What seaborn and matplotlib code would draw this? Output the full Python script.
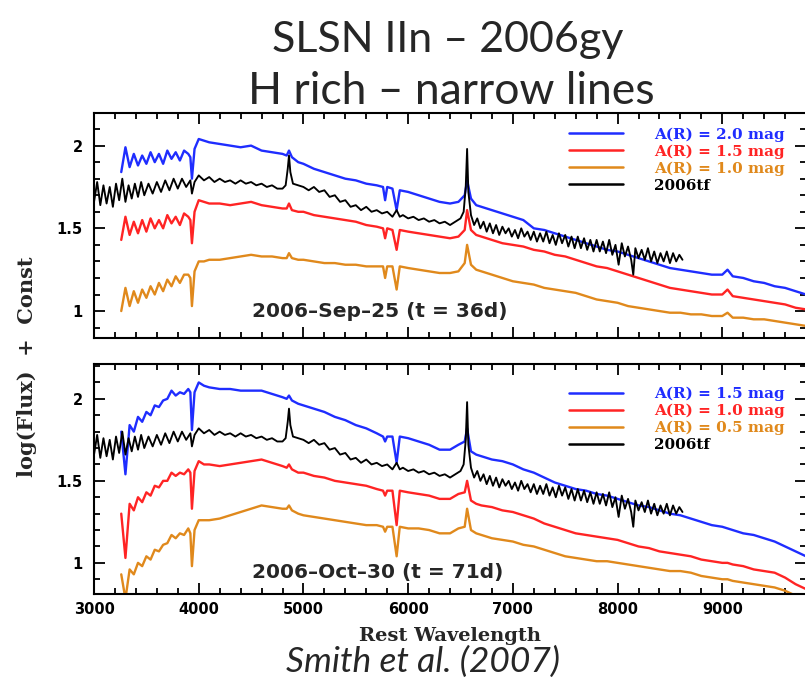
import matplotlib
matplotlib.use("Agg")
import matplotlib.pyplot as plt
import seaborn as sns
from matplotlib.ticker import MultipleLocator, FormatStrFormatter

# ---------------- data ----------------
WL_GY = [3260, 3300, 3340, 3380, 3420, 3460, 3500, 3540, 3580, 3620, 3660, 3700, 3740, 3780, 3820, 3860, 3900,
         3920, 3935, 3960, 4000, 4050, 4100,
         4200, 4300, 4400, 4500, 4600, 4700, 4800,
         4840, 4862, 4890, 4950, 5000,
         5100, 5200, 5300, 5400, 5500, 5600, 5700,
         5760, 5780, 5800, 5850, 5890, 5920, 6000,
         6100, 6200, 6300, 6400, 6480, 6540, 6563, 6600, 6650, 6700,
         6800, 6900, 7000, 7100, 7200, 7300, 7400, 7500, 7600, 7700,
         7800, 7900, 8000, 8100, 8200, 8300, 8400, 8500, 8600, 8700,
         8800, 8900, 9000, 9050, 9100, 9200, 9300, 9400, 9500, 9600, 9700, 9800]

# top panel: 2006-Sep-25
SEP_BLUE = [1.84, 1.99, 1.87, 1.95, 1.88, 1.94, 1.89, 1.96, 1.90, 1.95, 1.89, 1.97, 1.92, 1.96, 1.91, 1.97, 1.95,
            1.93, 1.80, 1.98, 2.04, 2.03, 2.02,
            2.01, 2.00, 1.99, 2.00, 1.97, 1.96, 1.95,
            1.94, 1.97, 1.93, 1.90, 1.89,
            1.86, 1.84, 1.82, 1.80, 1.79, 1.77, 1.76,
            1.75, 1.67, 1.75, 1.74, 1.61, 1.73, 1.72,
            1.70, 1.68, 1.66, 1.65, 1.66, 1.70, 1.79, 1.68, 1.64, 1.63,
            1.61, 1.59, 1.57, 1.55, 1.50, 1.49, 1.47, 1.45, 1.43, 1.41,
            1.39, 1.37, 1.36, 1.34, 1.32, 1.30, 1.28, 1.26, 1.25, 1.24,
            1.23, 1.22, 1.22, 1.25, 1.21, 1.20, 1.18, 1.17, 1.15, 1.14, 1.12, 1.10]
SEP_RED = [1.43, 1.57, 1.46, 1.54, 1.47, 1.55, 1.48, 1.56, 1.50, 1.55, 1.50, 1.58, 1.53, 1.57, 1.52, 1.59, 1.57,
           1.55, 1.41, 1.60, 1.67, 1.66, 1.65,
           1.65, 1.64, 1.65, 1.66, 1.64, 1.63, 1.62,
           1.62, 1.65, 1.61, 1.60, 1.60,
           1.58, 1.57, 1.56, 1.55, 1.54, 1.52, 1.51,
           1.50, 1.44, 1.50, 1.49, 1.37, 1.49, 1.48,
           1.47, 1.46, 1.45, 1.44, 1.45, 1.49, 1.61, 1.49, 1.46, 1.45,
           1.43, 1.41, 1.40, 1.39, 1.37, 1.36, 1.34, 1.33, 1.31, 1.29,
           1.27, 1.26, 1.24, 1.22, 1.20, 1.18, 1.16, 1.14, 1.13, 1.12,
           1.11, 1.10, 1.10, 1.13, 1.09, 1.08, 1.07, 1.06, 1.05, 1.04, 1.02, 1.01]
SEP_ORANGE = [1.00, 1.14, 1.03, 1.12, 1.05, 1.13, 1.08, 1.15, 1.10, 1.17, 1.12, 1.19, 1.15, 1.21, 1.17, 1.22, 1.22,
              1.20, 1.03, 1.24, 1.30, 1.30, 1.31,
              1.31, 1.32, 1.33, 1.34, 1.33, 1.33, 1.32,
              1.32, 1.35, 1.32, 1.31, 1.31,
              1.30, 1.29, 1.29, 1.28, 1.28, 1.27, 1.27,
              1.27, 1.20, 1.27, 1.27, 1.13, 1.27, 1.26,
              1.25, 1.24, 1.23, 1.23, 1.24, 1.29, 1.40, 1.28, 1.25, 1.24,
              1.22, 1.20, 1.18, 1.17, 1.16, 1.14, 1.13, 1.12, 1.11, 1.09,
              1.07, 1.06, 1.05, 1.03, 1.02, 1.01, 1.00, 0.99, 0.99, 0.98,
              0.98, 0.97, 0.97, 0.99, 0.96, 0.96, 0.95, 0.95, 0.94, 0.93, 0.92, 0.91]

# bottom panel: 2006-Oct-30
OCT_BLUE = [1.80, 1.54, 1.84, 1.80, 1.89, 1.86, 1.92, 1.90, 1.96, 1.95, 1.99, 2.00, 2.05, 2.02, 2.04, 2.03, 2.06,
            2.04, 1.81, 2.04, 2.10, 2.08, 2.07,
            2.06, 2.06, 2.05, 2.05, 2.05, 2.03, 2.01,
            2.00, 2.02, 1.99, 1.97, 1.96,
            1.94, 1.92, 1.89, 1.87, 1.84, 1.82, 1.79,
            1.77, 1.74, 1.77, 1.77, 1.61, 1.77, 1.76,
            1.74, 1.72, 1.69, 1.69, 1.72, 1.74, 1.82, 1.68, 1.66, 1.65,
            1.63, 1.62, 1.60, 1.57, 1.55, 1.52, 1.49, 1.47, 1.45, 1.44,
            1.42, 1.41, 1.39, 1.37, 1.35, 1.34, 1.32, 1.30, 1.29, 1.27,
            1.25, 1.23, 1.22, 1.21, 1.20, 1.18, 1.17, 1.15, 1.13, 1.10, 1.07, 1.04]
OCT_RED = [1.30, 1.03, 1.36, 1.32, 1.40, 1.37, 1.43, 1.41, 1.47, 1.46, 1.50, 1.50, 1.55, 1.53, 1.55, 1.54, 1.57,
           1.55, 1.33, 1.56, 1.62, 1.60, 1.60,
           1.59, 1.60, 1.61, 1.62, 1.63, 1.61, 1.59,
           1.58, 1.60, 1.57, 1.55, 1.55,
           1.53, 1.52, 1.50, 1.49, 1.48, 1.47, 1.45,
           1.44, 1.41, 1.44, 1.44, 1.23, 1.44, 1.43,
           1.42, 1.41, 1.39, 1.39, 1.42, 1.43, 1.50, 1.38, 1.36, 1.35,
           1.34, 1.32, 1.31, 1.29, 1.27, 1.24, 1.22, 1.20, 1.18, 1.17,
           1.16, 1.15, 1.14, 1.12, 1.10, 1.09, 1.07, 1.06, 1.05, 1.04,
           1.02, 1.01, 1.00, 1.00, 0.99, 0.98, 0.96, 0.95, 0.94, 0.91, 0.87, 0.84]
OCT_ORANGE = [0.93, 0.78, 0.96, 0.93, 1.00, 0.98, 1.04, 1.02, 1.08, 1.07, 1.11, 1.12, 1.17, 1.15, 1.18, 1.17, 1.21,
              1.18, 0.98, 1.20, 1.26, 1.26, 1.26,
              1.27, 1.29, 1.31, 1.33, 1.35, 1.34, 1.33,
              1.33, 1.35, 1.32, 1.30, 1.29,
              1.28, 1.27, 1.26, 1.25, 1.24, 1.23, 1.23,
              1.22, 1.19, 1.22, 1.22, 1.04, 1.22, 1.21,
              1.21, 1.20, 1.18, 1.18, 1.21, 1.22, 1.33, 1.20, 1.18, 1.17,
              1.15, 1.14, 1.13, 1.11, 1.10, 1.08, 1.06, 1.04, 1.03, 1.02,
              1.01, 1.01, 1.00, 0.99, 0.98, 0.97, 0.96, 0.95, 0.95, 0.94,
              0.92, 0.91, 0.90, 0.90, 0.89, 0.88, 0.87, 0.86, 0.85, 0.83, 0.80, 0.77]

# 2006tf comparison spectrum (same in both panels)
WL_TF = [3000, 3030, 3060, 3090, 3120, 3150, 3180, 3210, 3240, 3270, 3300, 3330, 3360, 3390, 3420, 3450, 3480,
         3520, 3560, 3600, 3640, 3680, 3720, 3760, 3800, 3840, 3880, 3920, 3935, 3960,
         4000, 4050, 4100, 4150, 4200, 4250, 4300, 4350, 4400, 4450, 4500, 4550, 4600, 4650, 4700, 4750,
         4800, 4830, 4850, 4862, 4875, 4900, 4950,
         5000, 5050, 5100, 5150, 5200, 5250, 5300, 5350, 5400, 5450, 5500, 5550, 5600, 5650, 5700, 5750,
         5800, 5850, 5890, 5920, 5950,
         6000, 6050, 6100, 6150, 6200, 6250, 6300, 6350, 6400, 6450, 6500, 6530, 6550, 6563, 6575, 6600,
         6630, 6660, 6690, 6720, 6750, 6780, 6810, 6840, 6870, 6900, 6930, 6960, 6990,
         7020, 7050, 7080, 7110, 7140, 7170, 7200, 7230, 7260, 7290, 7320, 7350, 7380, 7410, 7440, 7470,
         7500, 7530, 7560, 7590, 7620, 7650, 7680, 7710, 7740, 7770, 7800, 7830, 7860, 7890, 7920, 7950, 7980,
         8010, 8040, 8070, 8100, 8130, 8150, 8170, 8200, 8230, 8260, 8290, 8320, 8350, 8380, 8410, 8440,
         8470, 8500, 8530, 8560, 8590, 8620]
FLUX_TF = [1.66, 1.78, 1.64, 1.76, 1.65, 1.75, 1.63, 1.77, 1.67, 1.80, 1.66, 1.76, 1.68, 1.77, 1.69, 1.78, 1.70,
           1.77, 1.71, 1.78, 1.72, 1.79, 1.73, 1.80, 1.74, 1.80, 1.75, 1.79, 1.71, 1.78,
           1.82, 1.79, 1.81, 1.78, 1.80, 1.78, 1.79, 1.77, 1.79, 1.77, 1.78, 1.76, 1.77, 1.75, 1.76, 1.74,
           1.74, 1.76, 1.86, 1.94, 1.84, 1.77, 1.76,
           1.75, 1.73, 1.75, 1.72, 1.73, 1.69, 1.70, 1.66, 1.67, 1.63, 1.64, 1.61, 1.63, 1.60, 1.61, 1.59,
           1.60, 1.57, 1.61, 1.57, 1.58,
           1.56, 1.57, 1.55, 1.56, 1.54, 1.55, 1.53, 1.54, 1.52, 1.54, 1.56, 1.60, 1.75, 1.98, 1.72, 1.58,
           1.52, 1.56, 1.50, 1.54, 1.48, 1.53, 1.47, 1.52, 1.46, 1.51, 1.47, 1.50, 1.45,
           1.49, 1.44, 1.50, 1.45, 1.48, 1.43, 1.48, 1.42, 1.47, 1.42, 1.48, 1.41, 1.46, 1.40, 1.47, 1.41,
           1.46, 1.39, 1.45, 1.38, 1.45, 1.38, 1.44, 1.37, 1.43, 1.36, 1.43, 1.36, 1.42, 1.35, 1.43, 1.34, 1.40,
           1.28, 1.41, 1.33, 1.39, 1.31, 1.22, 1.38, 1.32, 1.37, 1.31, 1.38, 1.30, 1.36, 1.29, 1.35, 1.30,
           1.36, 1.29, 1.35, 1.30, 1.34, 1.31]

SEP_LABELS = ["A(R) = 2.0 mag", "A(R) = 1.5 mag", "A(R) = 1.0 mag", "2006tf"]
OCT_LABELS = ["A(R) = 1.5 mag", "A(R) = 1.0 mag", "A(R) = 0.5 mag", "2006tf"]
SEP_NOTE = "2006\u2013Sep\u201325 (t = 36d)"
OCT_NOTE = "2006\u2013Oct\u201330 (t = 71d)"
X_TICKS = [3000, 4000, 5000, 6000, 7000, 8000, 9000]
Y_TICKS = [1, 1.5, 2]

BLUE, RED, ORANGE, BLACK = "#1f2dff", "#ff2424", "#e0891c", "#000000"

# ---------------- style ----------------
sns.set_theme(style="ticks")
plt.rcParams['font.family'] = ['DejaVu Sans']
plt.rcParams['font.weight'] = 'bold'
plt.rcParams['axes.edgecolor'] = 'black'
plt.rcParams['xtick.color'] = 'black'
plt.rcParams['ytick.color'] = 'black'

fig = plt.figure(figsize=(8.05, 6.82), dpi=100)
ax1 = fig.add_axes([0.1168, 0.5051, 0.8845, 0.3299])
ax2 = fig.add_axes([0.1168, 0.1290, 0.8845, 0.3367])

panels = [
    (ax1, [SEP_BLUE, SEP_RED, SEP_ORANGE], SEP_LABELS, SEP_NOTE, (0.84, 2.20), 0.935, 0.092),
    (ax2, [OCT_BLUE, OCT_RED, OCT_ORANGE], OCT_LABELS, OCT_NOTE, (0.81, 2.21), 0.903, 0.070),
]

for ax, series, labels, note, ylim, leg_y, note_y in panels:
    for vals, col, lab in zip(series, [BLUE, RED, ORANGE], labels[:3]):
        sns.lineplot(x=WL_GY, y=vals, ax=ax, color=col, lw=1.7, label=lab,
                     estimator=None, sort=False)
    sns.lineplot(x=WL_TF, y=FLUX_TF, ax=ax, color=BLACK, lw=1.35, label=labels[3],
                 estimator=None, sort=False)
    ax.set_xlim(3000, 9800)
    ax.set_ylim(*ylim)
    ax.set_xticks(X_TICKS)
    ax.set_yticks(Y_TICKS)
    ax.xaxis.set_minor_locator(MultipleLocator(200))
    ax.yaxis.set_minor_locator(MultipleLocator(0.1))
    ax.yaxis.set_major_formatter(FormatStrFormatter('%g'))
    ax.tick_params(which='both', direction='in', top=True, right=True, width=1.3, labelsize=10.5)
    ax.tick_params(which='major', length=8)
    ax.tick_params(which='minor', length=4)
    ax.tick_params(axis='y', pad=8)
    ax.tick_params(axis='x', pad=6)
    for sp in ax.spines.values():
        sp.set_linewidth(1.5)
        sp.set_color('black')
    ax.set_xlabel("")
    ax.set_ylabel("")
    leg = ax.legend(loc='upper left', bbox_to_anchor=(0.667, leg_y), frameon=False,
                    handlelength=3.55, handletextpad=2.0, labelspacing=0.18,
                    borderpad=0, borderaxespad=0,
                    prop=dict(family='DejaVu Serif', weight='bold', size=11),
                    labelcolor='linecolor')
    for ln in leg.get_lines():
        ln.set_linewidth(1.8)
    ax.text(0.222, note_y, note, transform=ax.transAxes, fontsize=14.5,
            fontweight='bold', ha='left', va='baseline')

ax1.tick_params(axis='x', labelbottom=False)
ax2.set_xlabel("Rest Wavelength", family='DejaVu Serif', fontweight='bold',
               fontsize=14, labelpad=7)

fig.text(0.034, 0.462, "log(Flux)  +  Const", rotation=90, ha='center', va='center',
         family='DejaVu Serif', fontweight='bold', fontsize=15)

fig.text(0.556, 0.924, "SLSN IIn \u2013 2006gy", ha='center', va='baseline',
         family='Lato', fontweight='normal', fontsize=31)
fig.text(0.561, 0.8475, "H rich \u2013 narrow lines", ha='center', va='baseline',
         family='Lato', fontweight='normal', fontsize=32)
fig.text(0.526, 0.0147, "Smith et al. (2007)", ha='center', va='baseline',
         family='Lato', style='italic', fontweight='normal', fontsize=25.5)

fig.savefig("out.png", dpi=100)
